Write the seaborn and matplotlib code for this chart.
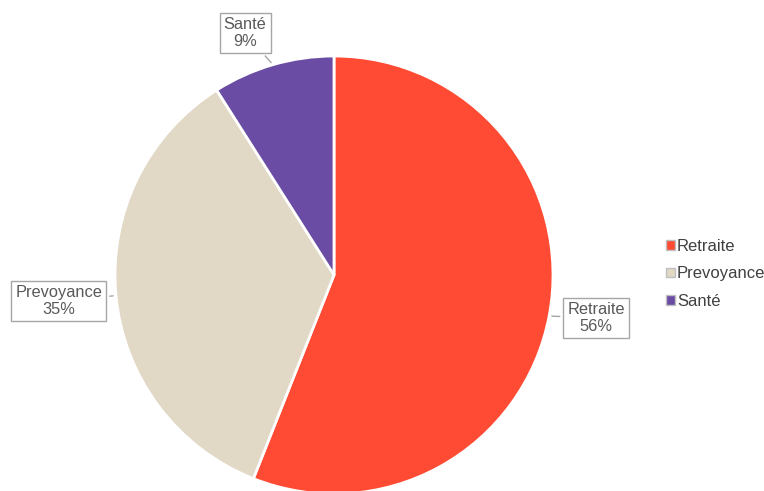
import numpy as np
import matplotlib.pyplot as plt
import seaborn as sns
from matplotlib.patches import Patch

# Données
categories = ['Retraite', 'Prevoyance', 'Santé']
parts = [56, 35, 9]
couleurs = ['#FF4B33', '#E1D8C6', '#6B4CA4']
label_pos = [(1.196, -0.196), (-1.256, -0.119), (-0.406, 1.105)]

sns.set_theme(style='white')
plt.rcParams['font.family'] = ['Liberation Sans', 'DejaVu Sans']

fig = plt.figure(figsize=(7.64, 4.91), dpi=100)
cx, cy, r = 334, 275, 219
ax = fig.add_axes([(cx - r) / 764, (491 - cy - r) / 491, 2 * r / 764, 2 * r / 491])

wedges, _ = ax.pie(parts, colors=couleurs, startangle=90, counterclock=False,
                   radius=1, wedgeprops=dict(edgecolor='white', linewidth=2))
ax.set_xlim(-1, 1)
ax.set_ylim(-1, 1)
ax.set_aspect('equal')
ax.axis('off')

# Étiquettes avec bulles
for w, cat, p, (tx, ty) in zip(wedges, categories, parts, label_pos):
    ang = np.deg2rad((w.theta1 + w.theta2) / 2)
    px, py = np.cos(ang), np.sin(ang)
    ax.annotate(f'{cat}\n{p}%', xy=(px, py), xytext=(tx, ty),
                ha='center', va='center', fontsize=11.8, color='#595959',
                linespacing=1.2, annotation_clip=False,
                bbox=dict(boxstyle='square,pad=0.25', fc='white', ec='#A6A6A6', lw=1),
                arrowprops=dict(arrowstyle='-', color='#A6A6A6', lw=1))

handles = [Patch(facecolor=c, edgecolor='#BFBFBF', label=n) for c, n in zip(couleurs, categories)]
fig.legend(handles=handles, loc='center left', bbox_to_anchor=(0.872, 0.442),
           frameon=False, fontsize=12, labelcolor='#404040', borderpad=0, borderaxespad=0,
           handlelength=0.5, handleheight=0.5, handletextpad=0.15, labelspacing=0.75)

plt.savefig('out.png', dpi=100)
